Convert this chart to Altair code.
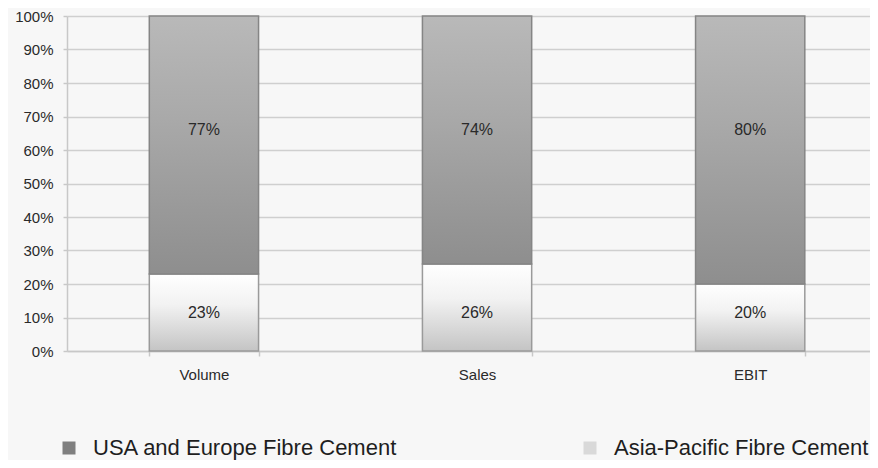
import altair as alt
import pandas as pd

categories = ["Volume", "Sales", "EBIT"]
usa_europe = [77, 74, 80]
asia_pacific = [23, 26, 20]
series_names = ["USA  and Europe Fibre Cement", "Asia-Pacific Fibre Cement"]
legend_colors = ["#7f7f7f", "#d9d9d9"]
y_ticks = [0, 10, 20, 30, 40, 50, 60, 70, 80, 90, 100]

rows = []
for i, c in enumerate(categories):
    rows.append({"category": c, "series": series_names[1], "value": asia_pacific[i] / 100, "order": 0})
    rows.append({"category": c, "series": series_names[0], "value": usa_europe[i] / 100, "order": 1})
df = pd.DataFrame(rows)

FONT = "Liberation Sans"

base = alt.Chart(df).transform_stack(
    stack="value", groupby=["category"], as_=["v0", "v1"],
    sort=[alt.SortField("order", order="ascending")]
)

x = alt.X(
    "category:N", sort=categories, title=None,
    scale=alt.Scale(paddingInner=0.6, paddingOuter=0.27, align=0.558),
    axis=alt.Axis(labelAngle=0, tickBand="extent", labelFont=FONT, labelFontSize=15,
                  labelColor="#2a2a2a", labelPadding=11, tickSize=5, tickColor="#c8c8c8",
                  tickWidth=1.5, domainColor="#c8c8c8", domainWidth=1.5, grid=False),
)
y = alt.Y(
    "v1:Q", title=None, scale=alt.Scale(domain=[0, 1]),
    axis=alt.Axis(values=[t / 100 for t in y_ticks], format=".0%", labelFont=FONT,
                  labelFontSize=15, labelColor="#2a2a2a", labelPadding=10, tickSize=4,
                  tickColor="#c8c8c8", tickWidth=1.5, domainColor="#c8c8c8", domainWidth=1.5,
                  grid=True, gridColor="#cfcfcf", gridWidth=1.5),
)

dark_grad = alt.Gradient(
    gradient="linear", x1=0, x2=0, y1=0, y2=1,
    stops=[alt.GradientStop(color="#b9b9b9", offset=0),
           alt.GradientStop(color="#a9a9a9", offset=0.4),
           alt.GradientStop(color="#8e8e8e", offset=1)],
)
light_grad = alt.Gradient(
    gradient="linear", x1=0, x2=0, y1=0, y2=1,
    stops=[alt.GradientStop(color="#ffffff", offset=0),
           alt.GradientStop(color="#f2f2f2", offset=0.4),
           alt.GradientStop(color="#c4c4c4", offset=1)],
)

top_bars = base.transform_filter(alt.datum.series == series_names[0]).mark_bar(
    fill=dark_grad, stroke="#858585", strokeWidth=1.5
).encode(x=x, y=y, y2="v0:Q")

bottom_bars = base.transform_filter(alt.datum.series == series_names[1]).mark_bar(
    fill=light_grad, stroke="#9a9a9a", strokeWidth=1.5
).encode(x=x, y=y, y2="v0:Q")

top_text = base.transform_filter(alt.datum.series == series_names[0]).mark_text(
    font=FONT, fontSize=16, color="#2a2a2a", baseline="middle"
).encode(x=x, y=alt.value(114), text=alt.Text("value:Q", format=".0%"))

bottom_text = base.transform_filter(alt.datum.series == series_names[1]).mark_text(
    font=FONT, fontSize=16, color="#2a2a2a", baseline="middle"
).encode(x=x, y=alt.value(297), text=alt.Text("value:Q", format=".0%"))

legend_layer = base.mark_square(opacity=0, size=0).encode(
    x=x, y=y,
    color=alt.Color(
        "series:N", title=None,
        scale=alt.Scale(domain=series_names, range=legend_colors),
        legend=alt.Legend(
            orient="none", legendX=-9, legendY=421, direction="horizontal",
            columnPadding=175, symbolType="square", symbolSize=169, symbolOpacity=1,
            symbolStrokeWidth=0, labelFont=FONT, labelFontSize=22, labelColor="#1e1e1e",
            labelOffset=13, labelLimit=0, padding=0,
        ),
    ),
)

chart = alt.layer(bottom_bars, top_bars, top_text, bottom_text, legend_layer).properties(
    width=803, height=335,
    autosize=alt.AutoSizeParams(type="none"),
    padding={"left": 59, "top": 8, "right": 0, "bottom": 109},
    background="#f7f7f7",
).configure_view(stroke=None)

chart.save("out.html", embed_options={"renderer": "svg", "actions": False})
